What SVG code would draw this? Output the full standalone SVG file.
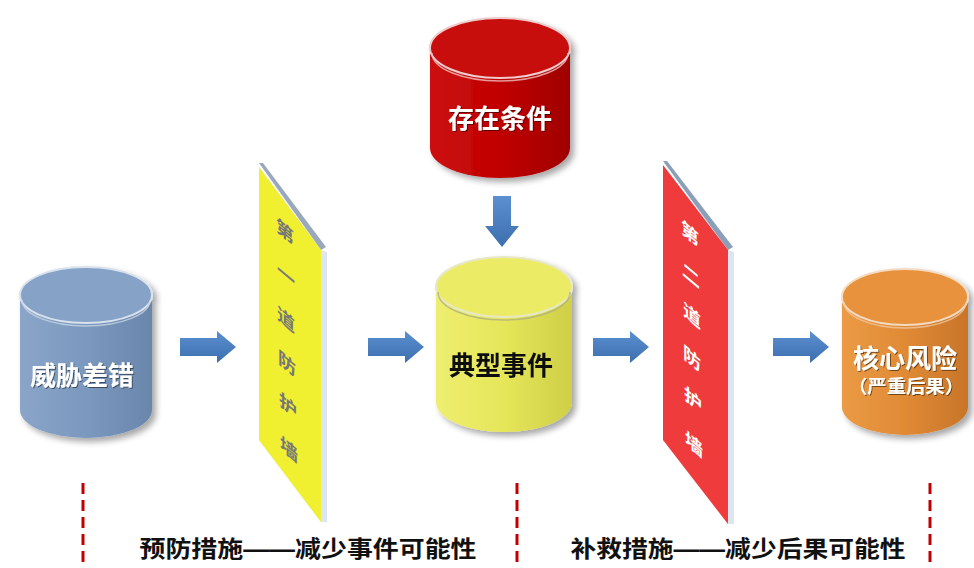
<svg xmlns="http://www.w3.org/2000/svg" width="974" height="568" viewBox="0 0 974 568">
<defs>
<style>
.t{font-family:"Liberation Sans","Noto Sans CJK SC",sans-serif;font-weight:bold;text-anchor:middle}
.w{fill:#fff}
.rim{fill:none;stroke-width:1.5;opacity:0.8}
.dash{stroke:#c00000;stroke-width:3;stroke-dasharray:11 6}
.arr{fill:url(#ga)}
</style>
<filter id="sh" x="-20%" y="-20%" width="150%" height="150%">
<feGaussianBlur in="SourceAlpha" stdDeviation="3"/>
<feOffset dx="4" dy="4"/>
<feComponentTransfer><feFuncA type="linear" slope="0.35"/></feComponentTransfer>
<feMerge><feMergeNode/><feMergeNode in="SourceGraphic"/></feMerge>
</filter>
<filter id="ts"><feDropShadow dx="1" dy="1" stdDeviation="0.6" flood-opacity="0.5"/></filter>
<linearGradient id="ga" x1="0" y1="0" x2="0" y2="1"><stop offset="0" stop-color="#5b8fd0"/><stop offset="1" stop-color="#3d6fae"/></linearGradient>
<linearGradient id="gb" x1="0" y1="0" x2="1" y2="0"><stop offset="0" stop-color="#8aa5c8"/><stop offset="0.5" stop-color="#7b98bf"/><stop offset="1" stop-color="#6a86ab"/></linearGradient>
<linearGradient id="gr" x1="0" y1="0" x2="1" y2="0"><stop offset="0" stop-color="#cc1010"/><stop offset="0.5" stop-color="#c00000"/><stop offset="1" stop-color="#a00000"/></linearGradient>
<linearGradient id="gy" x1="0" y1="0" x2="1" y2="0"><stop offset="0" stop-color="#eeee70"/><stop offset="0.5" stop-color="#e6e65a"/><stop offset="1" stop-color="#cfcf48"/></linearGradient>
<linearGradient id="go" x1="0" y1="0" x2="1" y2="0"><stop offset="0" stop-color="#eb9a45"/><stop offset="0.5" stop-color="#e08a35"/><stop offset="1" stop-color="#c8752a"/></linearGradient>
</defs>
<rect width="974" height="568" fill="#fff"/>

<g id="threat" filter="url(#sh)">
<path d="M20 295 A66 28 0 0 1 152 295 L152 410 A66 28 0 0 1 20 410 Z" fill="url(#gb)"/>
<ellipse cx="86" cy="295" rx="66" ry="28" fill="#86a2c6" stroke="#d8e2ee" stroke-width="2"/>
<path class="rim" d="M22 300 A64 26 0 0 0 150 300" stroke="#c8d4e4"/>
<text class="t w" x="82" y="385" font-size="26" filter="url(#ts)">威胁差错</text>
</g>

<g id="condition" filter="url(#sh)">
<path d="M430 48 A70 30 0 0 1 570 48 L570 148 A70 30 0 0 1 430 148 Z" fill="url(#gr)"/>
<ellipse cx="500" cy="48" rx="70" ry="30" fill="#c80a0a" stroke="#eecccc" stroke-width="2"/>
<path class="rim" d="M432 53 A68 28 0 0 0 568 53" stroke="#f0c0c0"/>
<text class="t w" x="500" y="128" font-size="26" filter="url(#ts)">存在条件</text>
</g>

<g id="event" filter="url(#sh)">
<path d="M436 287 A68 30 0 0 1 572 287 L572 402 A68 30 0 0 1 436 402 Z" fill="url(#gy)"/>
<ellipse cx="504" cy="287" rx="68" ry="30" fill="#ebeb66" stroke="#e8e8c8" stroke-width="2"/>
<path class="rim" d="M438 292 A66 28 0 0 0 570 292" stroke="#b0b080"/>
<text class="t" x="501" y="375" font-size="26" fill="#111">典型事件</text>
</g>

<g id="risk" filter="url(#sh)">
<path d="M842 297 A63 28 0 0 1 968 297 L968 407 A63 28 0 0 1 842 407 Z" fill="url(#go)"/>
<ellipse cx="905" cy="297" rx="63" ry="28" fill="#e8923c" stroke="#f4dcc4" stroke-width="2"/>
<path class="rim" d="M844 302 A61 26 0 0 0 966 302" stroke="#f0c8a0"/>
<text class="t w" x="905" y="368" font-size="26" filter="url(#ts)">核心风险</text>
<text class="t w" x="906" y="393" font-size="18" textLength="116" lengthAdjust="spacingAndGlyphs" filter="url(#ts)">（严重后果）</text>
</g>

<g id="wall1">
<polygon points="259,167 321,250 327,252 327,522 321,522 259,440" fill="#dce6f2"/>
<polygon points="259,163 263,163 326,247 321,250" fill="#9aa8bc"/>
<polygon points="259,167 321,250 321,522 259,440" fill="#f0f030"/>
<g class="t" font-size="18" fill="#777">
<text transform="translate(285,238) skewY(40)">第</text>
<text transform="translate(286,282) skewY(40)">一</text>
<text transform="translate(286,326) skewY(40)">道</text>
<text transform="translate(287,370) skewY(40)">防</text>
<text transform="translate(288,412) skewY(40)">护</text>
<text transform="translate(289,456) skewY(40)">墙</text>
</g>
</g>

<g id="wall2">
<polygon points="663,165 728,250 734,252 734,524 728,524 663,440" fill="#dce6f2"/>
<polygon points="663,161 667,161 733,247 728,250" fill="#8c9fb8"/>
<polygon points="663,165 728,250 728,524 663,440" fill="#ef3b3b"/>
<g class="t w" font-size="18">
<text transform="translate(690,240) skewY(40)">第</text>
<text transform="translate(691,282) skewY(40)">二</text>
<text transform="translate(692,322) skewY(40)">道</text>
<text transform="translate(692,365) skewY(40)">防</text>
<text transform="translate(693,406) skewY(40)">护</text>
<text transform="translate(694,451) skewY(40)">墙</text>
</g>
</g>

<g id="connectors">
<polygon class="arr" points="180,338 217,338 217,331 236,347 217,363 217,356 180,356"/>
<polygon class="arr" points="368,338 405,338 405,331 424,347 405,363 405,356 368,356"/>
<polygon class="arr" points="593,338 630,338 630,331 649,347 630,363 630,356 593,356"/>
<polygon class="arr" points="773,338 810,338 810,331 829,347 810,363 810,356 773,356"/>
<polygon class="arr" points="493,196 511,196 511,226 519,226 502,247 485,226 493,226"/>
<line class="dash" x1="83" y1="483" x2="83" y2="568"/>
<line class="dash" x1="517" y1="483" x2="517" y2="568"/>
<line class="dash" x1="930" y1="483" x2="930" y2="568"/>
</g>

<g id="labels" class="t" font-size="23" fill="#111">
<text x="308" y="557" textLength="337" lengthAdjust="spacingAndGlyphs">预防措施——减少事件可能性</text>
<text x="738" y="557" textLength="335" lengthAdjust="spacingAndGlyphs">补救措施——减少后果可能性</text>
</g>
</svg>
